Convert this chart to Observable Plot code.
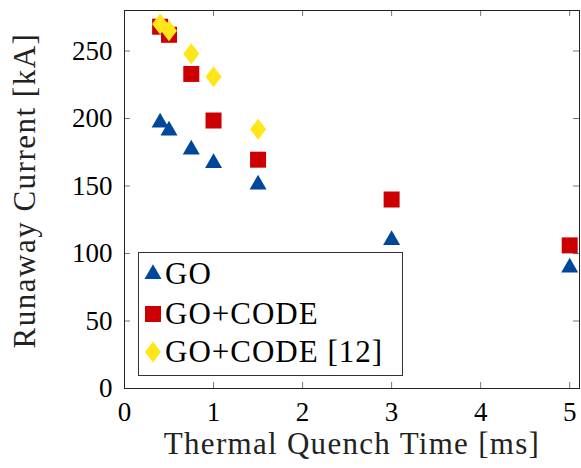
<!DOCTYPE html>
<html><head><meta charset="utf-8">
<script src="https://cdn.jsdelivr.net/npm/d3@7"></script>
<script src="https://cdn.jsdelivr.net/npm/@observablehq/plot@0.6"></script>
<style>
body{margin:0;background:#fff;}
#wrap{position:relative;width:581px;height:468px;font-family:"Liberation Serif",serif;}
#wrap svg, #wrap svg text{font-family:"Liberation Serif",serif !important;}
#legend{position:absolute;left:138px;top:252px;}
</style>
</head><body>
<div id="wrap"><div id="chart"></div><div id="legend"></div></div>
<script>
// ---- data ----
const goTimes = [0.4, 0.5, 0.75, 1.0, 1.5, 3, 5];
const goValues = [197, 191, 177, 167, 151, 110, 89.5];
const goCodeTimes = [0.4, 0.5, 0.75, 1.0, 1.5, 3, 5];
const goCodeValues = [268, 262, 233, 198.5, 169.5, 140, 106];
const goCode12Times = [0.4, 0.5, 0.75, 1.0, 1.5];
const goCode12Values = [270, 265, 248, 231, 192];
const seriesNames = ["GO", "GO+CODE", "GO+CODE [12]"];
const seriesColors = ["#00469b", "#cc0000", "#ffe619"];
const xTicks = [0, 1, 2, 3, 4, 5];
const yTicks = [0, 50, 100, 150, 200, 250];
const xLabel = "Thermal Quench Time [ms]";
const yLabel = "Runaway Current [kA]";

// ---- layout ----
const W = 581, H = 468, mL = 124, mR = 2, mT = 10, mB = 80;
const pw = W - mL - mR, ph = H - mT - mB, tk = 6;
const font = "Liberation Serif, serif";

const tri = {draw(c){c.moveTo(0,-9.8);c.lineTo(8.5,4.9);c.lineTo(-8.5,4.9);c.closePath();}};
const sq = {draw(c){c.rect(-8,-8,16,16);}};
const dia = {draw(c){c.moveTo(0,-10.5);c.lineTo(8,0);c.lineTo(0,10.5);c.lineTo(-8,0);c.closePath();}};
const symbols = [tri, sq, dia];

const mk = (xs, ys) => xs.map((x, i) => ({x, y: ys[i]}));
const sets = [mk(goTimes, goValues), mk(goCodeTimes, goCodeValues), mk(goCode12Times, goCode12Values)];

const chart = Plot.plot({
  width: W, height: H,
  marginLeft: mL, marginRight: mR, marginTop: mT, marginBottom: mB,
  style: {fontFamily: font, fontSize: "27px", color: "#000", background: "#fff"},
  x: {domain: [0, 5.11]},
  y: {domain: [0, 280]},
  marks: [
    Plot.ruleX(xTicks, {x: d => d, insetTop: ph - tk, stroke: "#777", strokeWidth: 1}),
    Plot.ruleX(xTicks, {x: d => d, insetBottom: ph - tk, stroke: "#777", strokeWidth: 1}),
    Plot.ruleY(yTicks, {y: d => d, insetRight: pw - tk, stroke: "#777", strokeWidth: 1}),
    Plot.ruleY(yTicks, {y: d => d, insetLeft: pw - tk, stroke: "#777", strokeWidth: 1}),
    Plot.axisX({ticks: xTicks, tickSize: 0, tickPadding: 13, label: null, tickFormat: d => String(d), fill: "#000"}),
    Plot.axisY({ticks: yTicks, tickSize: 0, tickPadding: 12, label: null, tickFormat: d => String(d), fill: "#000"}),
    ...sets.map((data, i) => Plot.dot(data, {x: "x", y: "y", symbol: symbols[i], r: 8, fill: seriesColors[i]})),
    Plot.frame({stroke: "#222", strokeWidth: 1}),
    Plot.text([xLabel], {text: d => d, frameAnchor: "bottom", dy: 65, fontSize: 31, fill: "#222"}),
    Plot.text([yLabel], {text: d => d, frameAnchor: "left", textAnchor: "middle", rotate: -90, dx: -99, dy: -9, fontSize: 31, fill: "#222"})
  ]
});
document.getElementById("chart").appendChild(chart);
// widen titles to resemble the original typeface's spacing
d3.select(chart).selectAll("text").filter(function(){ return this.textContent === xLabel; }).style("letter-spacing", "1.3px");
d3.select(chart).selectAll("text").filter(function(){ return this.textContent === yLabel; }).style("letter-spacing", "1.5px");

// ---- legend ----
const lw = 265, lh = 124;
const lg = d3.select("#legend").append("svg").attr("width", lw).attr("height", lh);
lg.append("rect").attr("x", 0.5).attr("y", 0.5).attr("width", lw - 1).attr("height", lh - 1)
  .attr("fill", "#fff").attr("stroke", "#333");
const rowY = [22, 62, 100];
seriesNames.forEach((name, i) => {
  lg.append("path").attr("d", d3.symbol(symbols[i])()).attr("fill", seriesColors[i])
    .attr("transform", `translate(15,${rowY[i]})`);
  lg.append("text").attr("x", 27).attr("y", rowY[i] + 10).text(name)
    .style("font-size", "31px").style("letter-spacing", "1px").attr("fill", "#000");
});
</script>
</body></html>
